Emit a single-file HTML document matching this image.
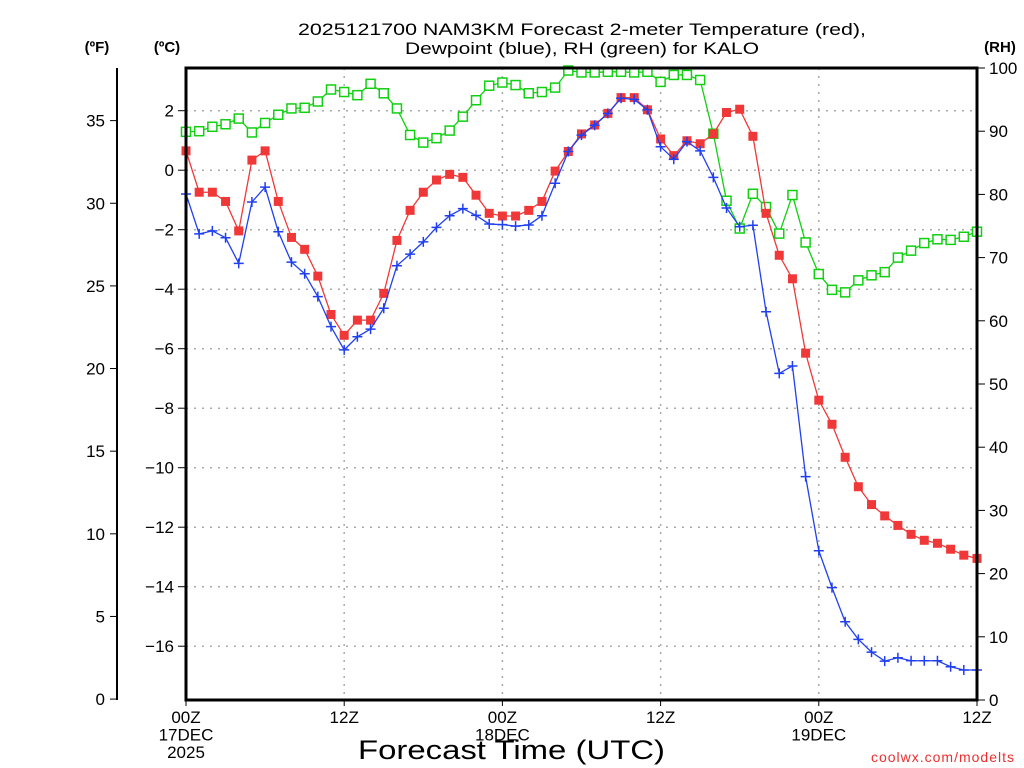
<!DOCTYPE html>
<html><head><meta charset="utf-8"><style>
html,body{margin:0;padding:0;background:#fff;}
svg{display:block;font-family:"Liberation Sans",sans-serif;}
</style></head><body>
<svg id="chart" width="1024" height="768" viewBox="0 0 1024 768" xmlns="http://www.w3.org/2000/svg">
<rect width="1024" height="768" fill="#fff"/>
<g font-size="17" fill="#000">
<text x="298" y="35" textLength="568" lengthAdjust="spacingAndGlyphs">2025121700 NAM3KM Forecast 2-meter Temperature (red),</text>
<text x="405" y="54" textLength="354" lengthAdjust="spacingAndGlyphs">Dewpoint (blue), RH (green) for KALO</text>
</g>
<text x="97" y="52" font-size="15" font-weight="bold" text-anchor="middle">(ºF)</text>
<text x="167" y="52" font-size="15" font-weight="bold" text-anchor="middle">(ºC)</text>
<text x="1000" y="52" font-size="15" font-weight="bold" text-anchor="middle">(RH)</text>
<g id="grid"></g>
<g id="axes"></g>
<g id="series"></g>
<rect x="186" y="68" width="791" height="632" fill="none" stroke="#000" stroke-width="3"/>
<text x="358" y="759" font-size="27" textLength="307" lengthAdjust="spacingAndGlyphs">Forecast Time (UTC)</text>
<text x="1015" y="762" font-size="14" fill="#e83030" text-anchor="end" letter-spacing="1">coolwx.com/modelts</text>
</svg>
<script>
const hours = Array.from({length:61},(_,i)=>i);
const tempC = [0.65,-0.74,-0.74,-1.05,-2.04,0.34,0.65,-1.05,-2.26,-2.66,-3.56,-4.85,-5.55,-5.04,-5.04,-4.14,-2.36,-1.35,-0.74,-0.33,-0.14,-0.24,-0.84,-1.45,-1.54,-1.54,-1.35,-1.05,-0.03,0.63,1.22,1.52,1.91,2.44,2.44,2.03,1.05,0.49,0.99,0.89,1.22,1.94,2.05,1.14,-1.45,-2.86,-3.65,-6.15,-7.73,-8.54,-9.65,-10.64,-11.24,-11.62,-11.94,-12.24,-12.44,-12.54,-12.74,-12.94,-13.05];
const dewC = [-0.80,-2.14,-2.04,-2.27,-3.13,-1.07,-0.57,-2.07,-3.09,-3.48,-4.25,-5.26,-6.04,-5.60,-5.34,-4.64,-3.21,-2.82,-2.41,-1.92,-1.53,-1.29,-1.52,-1.81,-1.83,-1.88,-1.84,-1.53,-0.44,0.63,1.18,1.51,1.91,2.42,2.38,2.03,0.79,0.37,0.96,0.65,-0.24,-1.27,-1.90,-1.85,-4.76,-6.83,-6.58,-10.30,-12.79,-14.03,-15.18,-15.77,-16.20,-16.50,-16.39,-16.49,-16.49,-16.49,-16.69,-16.80,-16.80];
const rh = [89.9,90.0,90.7,91.1,92.0,89.8,91.3,92.6,93.6,93.7,94.7,96.6,96.2,95.7,97.5,96.0,93.6,89.4,88.2,88.9,90.1,92.3,94.9,97.2,97.7,97.3,96.0,96.2,96.9,99.6,99.3,99.3,99.4,99.4,99.3,99.4,97.8,98.9,98.9,98.1,89.6,79.0,74.6,80.1,78.0,73.8,79.9,72.4,67.4,64.9,64.5,66.4,67.2,67.7,70.0,71.1,72.3,72.9,72.8,73.3,74.1];
const cTicks = [2,0,-2,-4,-6,-8,-10,-12,-14,-16];
const fTicks = [35,30,25,20,15,10,5,0];
const rhTicks = [100,90,80,70,60,50,40,30,20,10,0];
const xTickHours = [0,12,24,36,48,60];
const xTickLabels = [["00Z","17DEC","2025"],["12Z"],["00Z","18DEC"],["12Z"],["00Z","19DEC"],["12Z"]];

const NS="http://www.w3.org/2000/svg";
const L=186,R=977,T=68,B=700;
const x=h=>L+(R-L)*h/60;
const yC=c=>170.2-29.75*c;
const yF=f=>yC((f-32)*5/9);
const yRH=v=>B-(B-T)*v/100;
function mk(tag,attrs,parent){const e=document.createElementNS(NS,tag);for(const k in attrs)e.setAttribute(k,attrs[k]);parent.appendChild(e);return e;}
const grid=document.getElementById('grid'),axes=document.getElementById('axes'),ser=document.getElementById('series');

cTicks.forEach(c=>{
  const y=yC(c);
  const g=mk('line',{x1:L,x2:R,y1:y,y2:y,stroke:'#aaa','stroke-width':1.5,'stroke-dasharray':'2,6'},grid);
  
  
  const t=mk('line',{x1:L-8,x2:L,y1:y,y2:y,stroke:'#000','stroke-width':1},axes);
  
  
  const lb=mk('text',{x:L-12,y:y+6,'font-size':17,'text-anchor':'end'},axes);
  lb.textContent=(c<0?'\u2212':'')+Math.abs(c);
  
  
});
xTickHours.forEach((h,i)=>{
  const xx=x(h);
  if(h>0&&h<60){const g=mk('line',{x1:xx,x2:xx,y1:T,y2:B,stroke:'#aaa','stroke-width':1.5,'stroke-dasharray':'2,6'},grid);
  
  }
  const t=mk('line',{x1:xx,x2:xx,y1:B,y2:B+6,stroke:'#000','stroke-width':1},axes);
  
  
  xTickLabels[i].forEach((s,j)=>{
    const lb=mk('text',{x:xx,y:723+j*17.5,'font-size':17,'text-anchor':'middle'},axes);
    lb.textContent=s;
    
    
  });
});
const fl=mk('line',{x1:117,x2:117,y1:T,y2:B,stroke:'#000','stroke-width':2},axes);


fTicks.forEach(f=>{
  const y=yF(f);
  const t=mk('line',{x1:110,x2:117,y1:y,y2:y,stroke:'#000','stroke-width':1},axes);
  
  
  const lb=mk('text',{x:105,y:y+6,'font-size':17,'text-anchor':'end'},axes);
  lb.textContent=f;
  
  
});
rhTicks.forEach(v=>{
  const y=yRH(v);
  const t=mk('line',{x1:R,x2:R+8,y1:y,y2:y,stroke:'#000','stroke-width':1},axes);
  
  
  const lb=mk('text',{x:R+12,y:y+6,'font-size':17,'text-anchor':'start'},axes);
  lb.textContent=v;
  
  
});

function line(vals,yf,color,name){
  const p=mk('polyline',{points:vals.map((v,i)=>x(hours[i])+','+yf(v)).join(' '),fill:'none',stroke:color,'stroke-width':1.3},ser);
  
  
}
line(rh,yRH,'#10d010','rh-line');
rh.forEach((v,i)=>{
  const m=mk('rect',{x:x(hours[i])-4.5,y:yRH(v)-4.5,width:9,height:9,fill:'#fff',stroke:'#10d010','stroke-width':1.5},ser);
  
  
});
line(tempC,yC,'#f03838','temperature-line');
tempC.forEach((v,i)=>{
  const m=mk('rect',{x:x(hours[i])-4.5,y:yC(v)-4.5,width:9,height:9,fill:'#f03838'},ser);
  
  
});
line(dewC,yC,'#2040f0','dewpoint-line');
dewC.forEach((v,i)=>{
  const xx=x(hours[i]),y=yC(v);
  const m=mk('path',{d:`M${xx-5},${y}H${xx+5}M${xx},${y-5}V${y+5}`,stroke:'#2040f0','stroke-width':1.5,fill:'none'},ser);
  
  
});
</script>
</body></html>
